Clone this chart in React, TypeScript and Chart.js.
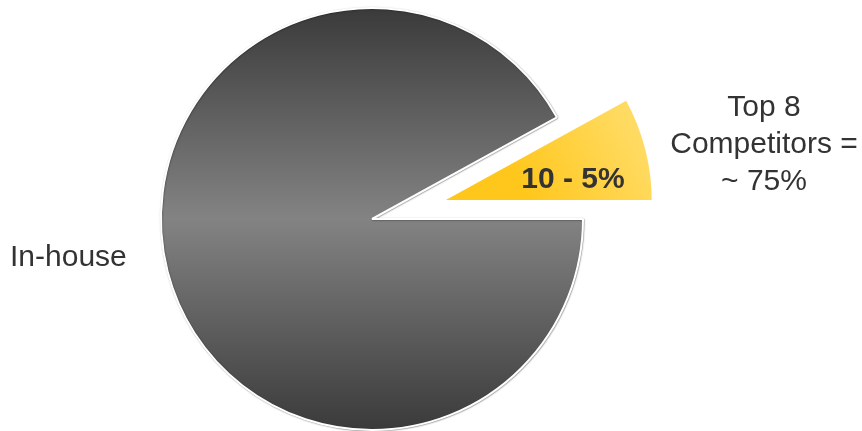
import React, { useEffect, useRef } from "react";
import { Chart, registerables, PieController } from "chart.js";

Chart.register(...registerables);

// Market share split
const categories = ["Top 8 Competitors", "In-house"];
const shareValues = [8, 92];
const explodeBy = [72, 0];
const sliceLabel = "10 - 5%";
const competitorNote = ["Top 8", "Competitors =", "~ 75%"];
const inHouseNote = "In-house";

const FONT = "'Liberation Sans', Arial, Helvetica, sans-serif";

// Pie whose slices can be pulled out along their mid-angle without changing their radius
class ExplodedPieController extends PieController {
  static id = "explodedPie";
  draw() {
    const chart = (this as any).chart;
    const ctx = chart.ctx as CanvasRenderingContext2D;
    const meta = (this as any)._cachedMeta;
    const ds = (this as any).getDataset();
    const pull: number[] = (ds.explode as number[]) || [];
    const halo: string[] = (ds.edgeShadow as string[]) || [];
    meta.data.forEach((arc: any, i: number) => {
      const d = pull[i] || 0;
      const mid = (arc.startAngle + arc.endAngle) / 2;
      ctx.save();
      if (halo[i]) {
        ctx.shadowColor = halo[i];
        ctx.shadowBlur = 1.5;
        ctx.shadowOffsetX = 0.5;
        ctx.shadowOffsetY = 0.5;
      }
      ctx.translate(Math.cos(mid) * d, Math.sin(mid) * d);
      arc.draw(ctx, chart.chartArea);
      ctx.restore();
    });
  }
}
Chart.register(ExplodedPieController);

const textPlugin = {
  id: "pieNotes",
  afterDraw(chart: any) {
    const ctx = chart.ctx as CanvasRenderingContext2D;
    ctx.save();
    ctx.fillStyle = "#333333";
    ctx.textBaseline = "alphabetic";

    // value label inside the exploded slice
    ctx.font = `bold 30px ${FONT}`;
    ctx.textAlign = "center";
    ctx.fillText(sliceLabel, 573, 188);

    // competitor note on the right
    ctx.font = `30px ${FONT}`;
    const baselines = [116, 153, 190];
    competitorNote.forEach((line, i) => ctx.fillText(line, 764, baselines[i]));

    // in-house note on the left
    ctx.textAlign = "left";
    ctx.fillText(inHouseNote, 10, 266);
    ctx.restore();
  },
};

export default function App() {
  const canvasRef = useRef<HTMLCanvasElement | null>(null);

  useEffect(() => {
    const canvas = canvasRef.current;
    if (!canvas) return;

    const fill = (c: any) => {
      const ctx = c.chart.ctx as CanvasRenderingContext2D;
      if (c.dataIndex === 0) {
        const g = ctx.createLinearGradient(450, 205, 650, 95);
        g.addColorStop(0, "#ffc71c");
        g.addColorStop(0.5, "#ffd95c");
        g.addColorStop(1, "#ffe68e");
        return g;
      }
      const g = ctx.createLinearGradient(0, 7, 0, 431);
      g.addColorStop(0, "#3a3a3a");
      g.addColorStop(0.5, "#838383");
      g.addColorStop(1, "#3a3a3a");
      return g;
    };

    const chart = new Chart(canvas, {
      type: "explodedPie" as any,
      data: {
        labels: categories,
        datasets: [
          {
            data: shareValues,
            explode: explodeBy,
            edgeShadow: ["", "rgba(0,0,0,0.4)"],
            backgroundColor: fill,
            borderColor: "#ffffff",
            borderWidth: 2,
          } as any,
        ],
      },
      options: {
        responsive: false,
        animation: false,
        rotation: 90 - (shareValues[0] / (shareValues[0] + shareValues[1])) * 360,
        radius: 211,
        layout: { padding: { left: 0, right: 118, top: 7, bottom: 0 } },
        plugins: {
          legend: { display: false },
          tooltip: { enabled: false },
        },
      } as any,
      plugins: [textPlugin],
    });

    return () => chart.destroy();
  }, []);

  return (
    <div style={{ position: "absolute", left: 0, top: 0, width: 862, height: 431, background: "#ffffff" }}>
      <canvas ref={canvasRef} width={862} height={431} />
    </div>
  );
}
